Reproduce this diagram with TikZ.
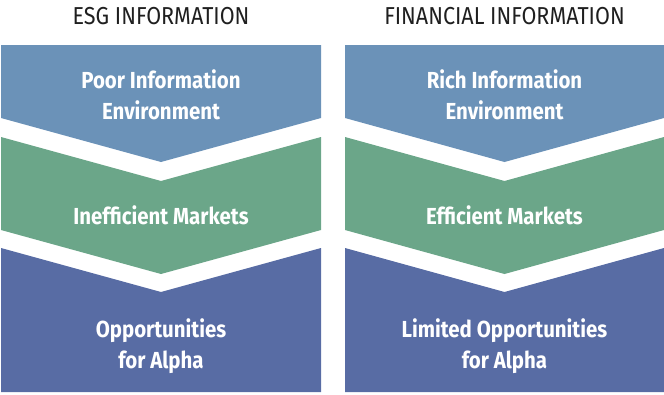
\documentclass[tikz,border=0pt]{standalone}
\usepackage{fontspec}
\setmainfont{Fira Sans}[FakeStretch=0.88]
\usepackage{tikz}
\usetikzlibrary{arrows}
\usepackage{xcolor}

\definecolor{infoblue}{RGB}{107,146,184}
\definecolor{marketgreen}{RGB}{107,166,137}
\definecolor{alphablue}{RGB}{88,108,164}

\tikzset{
	head/.style={inner sep=0pt, text=black!88, font=\fontsize{24.5}{28}\selectfont},
	boxtext/.style={inner sep=0pt, text=white, align=center, font=\fontsize{23.2}{30.5}\selectfont\bfseries},
}

\begin{document}
\begin{tikzpicture}[x=1pt,y=-1pt]
					\useasboundingbox (0,0) rectangle (664,394);
					
					% left column
					\fill[infoblue] (1,45) -- (321,45) -- (321,118) -- (161,162) -- (1,118) -- cycle;
					\fill[marketgreen] (1,137) -- (161,181) -- (321,137) -- (321,230) -- (161,274) -- (1,230) -- cycle;
					\fill[alphablue] (1,248) -- (161,292) -- (321,248) -- (321,392) -- (1,392) -- cycle;
					
					% right column
					\fill[infoblue] (345,45) -- (664,45) -- (664,118) -- (504.5,162) -- (345,118) -- cycle;
					\fill[marketgreen] (345,137) -- (504.5,181) -- (664,137) -- (664,230) -- (504.5,274) -- (345,230) -- cycle;
					\fill[alphablue] (345,248) -- (504.5,292) -- (664,248) -- (664,392) -- (345,392) -- cycle;
					
					\node[head] (esg) at (161,16) {ESG INFORMATION};
					\node[head] (fin) at (504.5,16) {FINANCIAL INFORMATION};
					
					\node[boxtext] (poor) at (161,95) {Poor Information\\Environment};
					\node[boxtext] (ineff) at (161,215) {Inefficient Markets};
					\node[boxtext] (opp) at (161,346) {Opportunities\\for Alpha};
					
					\node[boxtext] (rich) at (504.5,95) {Rich Information\\Environment};
					\node[boxtext] (eff) at (504.5,215) {Efficient Markets};
					\node[boxtext] (lim) at (504.5,346) {Limited Opportunities\\for Alpha};
				\end{tikzpicture}
\end{document}
